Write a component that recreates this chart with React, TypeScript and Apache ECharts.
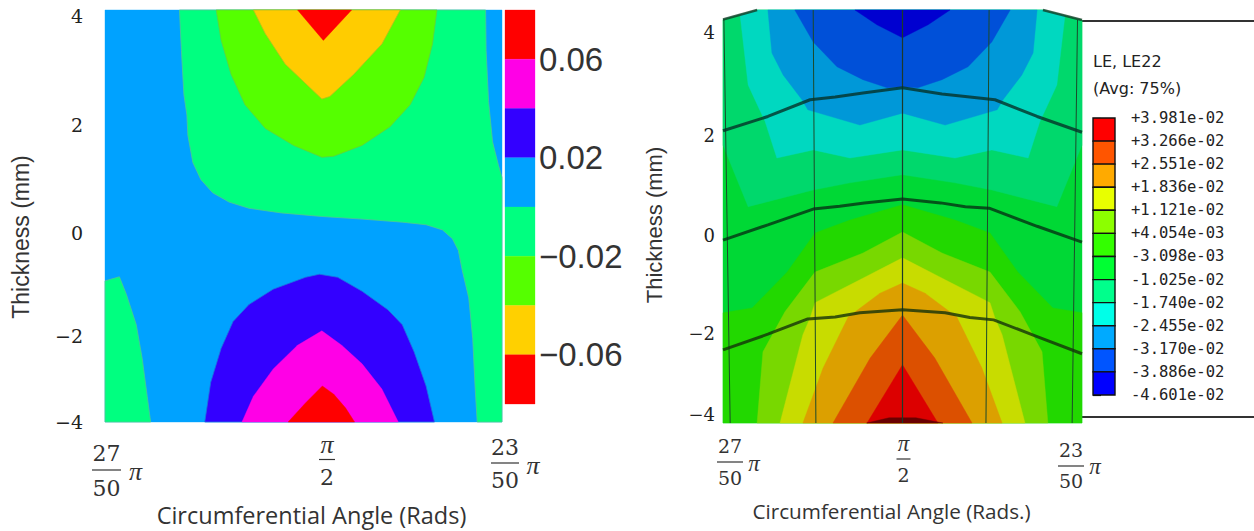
import React, { useEffect, useRef } from "react";
import * as echarts from "echarts";

type P = number[];

// ---------- left panel: contour regions as [angle (hundredths of pi), thickness mm] ----------
const leftMintBand: P[] = [[52.5,4],[52.46,3.21],[52.41,2.36],[52.35,1.96],[52.33,1.57],[52.23,1.04],[52.07,0.71],[51.83,0.45],[51.5,0.27],[51.1,0.15],[50.45,0.06],[49.63,-0.01],[48.82,-0.06],[48.01,-0.12],[47.53,-0.17],[47.2,-0.27],[47,-0.44],[46.88,-0.67],[46.8,-1.06],[46.67,-1.59],[46.59,-2.38],[46.54,-3.36],[46.5,-4],[46,-4],[46,0.75],[46.07,0.98],[46.19,1.44],[46.27,2.22],[46.32,3.21],[46.33,4]];
const leftMintCorner: P[] = [[54,-1.26],[53.71,-1.18],[53.57,-1.52],[53.37,-2.11],[53.25,-2.77],[53.15,-3.5],[53.08,-4],[54,-4]];
const leftLime: P[] = [[51.76,4],[51.66,3.41],[51.46,2.75],[51.18,2.16],[50.77,1.7],[50.2,1.37],[49.63,1.14],[49.39,1.16],[48.82,1.37],[48.26,1.73],[47.85,2.16],[47.57,2.69],[47.4,3.34],[47.31,4]];
const leftGold: P[] = [[51.01,4],[50.77,3.54],[50.37,2.95],[49.63,2.27],[49.47,2.32],[48.99,2.75],[48.42,3.34],[48.05,4]];
const leftRedTop: P[] = [[50.12,4],[49.6,3.41],[49.03,4]];
const leftViolet: P[] = [[51.99,-4],[51.87,-3.23],[51.66,-2.57],[51.42,-2.05],[51.1,-1.72],[50.61,-1.42],[49.96,-1.19],[49.68,-1.13],[49.31,-1.19],[48.82,-1.46],[48.3,-1.82],[48.01,-2.11],[47.77,-2.64],[47.53,-3.3],[47.36,-4]];
const leftMagenta: P[] = [[51.24,-4],[51.01,-3.5],[50.61,-2.97],[50.12,-2.51],[49.63,-2.23],[49.23,-2.51],[48.82,-2.87],[48.42,-3.36],[48.09,-4]];
const leftRedBottom: P[] = [[50.31,-4],[49.96,-3.63],[49.62,-3.3],[49.39,-3.46],[49.15,-3.73],[48.97,-4]];
const leftFull: P[] = [[54,4],[46,4],[46,-4],[54,-4]];

const leftYTickLabels = ["4", "2", "0", "\u22122", "\u22124"];
const leftYTickSpots = [3.88, 1.77, -0.33, -2.33, -4];

// left colour bar
const leftBarEdges = [0.08, 0.06, 0.04, 0.02, 0, -0.02, -0.04, -0.06, -0.08];
const leftBarColors = ["#ff0000", "#ff00e6", "#3300ff", "#00a2ff", "#00ff80", "#55ff00", "#ffd000", "#ff0000"];
const leftBarTicks = [0.06, 0.02, -0.02, -0.06];
const leftBarTickLabels = ["0.06", "0.02", "\u22120.02", "\u22120.06"];

// ---------- right panel ----------
const rightOutline: P[] = [[54,4.28],[53.24,4.48],[46.87,4.48],[46,4.27],[46,-4.17],[54,-4.17]];
const rightMint: P[] = [[54,4.28],[53.24,4.48],[46.87,4.48],[46,4.27],[46,1.65],[46.56,0.36],[48.01,0.71],[48.83,0.86],[50,1.03],[51.17,0.86],[51.99,0.71],[53.44,0.36],[54,1.65]];
const rightTeal: P[] = [[53.62,4.38],[53.24,4.48],[46.87,4.48],[46.38,4.36],[46.56,2.91],[46.94,2.14],[47.2,1.38],[48.01,1.55],[48.83,1.38],[50,1.55],[51.17,1.38],[51.99,1.55],[52.8,1.38],[53.06,2.14],[53.44,2.91]];
const rightSky: P[] = [[53,4.48],[47,4.48],[47.09,3.58],[47.34,3.12],[47.76,2.6],[47.89,2.39],[49.05,2.07],[50,2.32],[50.95,2.07],[52.11,2.39],[52.24,2.6],[52.66,3.12],[52.91,3.58]];
const rightBlue: P[] = [[52.4,4.48],[47.6,4.48],[48.01,3.81],[48.54,3.29],[49.12,3.02],[49.66,2.85],[50,2.87],[50.34,2.85],[50.88,3.02],[51.46,3.29],[51.99,3.81]];
const rightDeep: P[] = [[51.06,4.48],[48.94,4.48],[49.43,4.17],[50,3.9],[50.57,4.17]];
const rightGreen: P[] = [[54,-4.17],[54,-1.86],[53.35,-1.76],[52.57,-1.01],[51.95,-0.19],[51.17,0.08],[50,0.4],[48.83,0.08],[48.05,-0.19],[47.43,-1.01],[46.65,-1.76],[46,-1.86],[46,-4.17]];
const rightLime: P[] = [[53.24,-4.17],[53.11,-2.68],[52.62,-1.84],[51.95,-1.01],[50.88,-0.61],[50,-0.17],[49.12,-0.61],[48.05,-1.01],[47.38,-1.84],[46.89,-2.68],[46.76,-4.17]];
const rightYellow: P[] = [[52.73,-4.17],[52.22,-2.32],[52.06,-1.97],[51.95,-1.65],[50.95,-1.17],[50,-0.71],[49.05,-1.17],[48.05,-1.65],[47.94,-1.97],[47.78,-2.32],[47.27,-4.17]];
const rightOrange: P[] = [[52.22,-4.17],[51.77,-3.02],[51.21,-1.95],[50.5,-1.45],[50,-1.24],[49.5,-1.45],[48.79,-1.95],[48.23,-3.02],[47.78,-4.17]];
const rightRedOrange: P[] = [[51.55,-4.17],[50.72,-2.81],[50,-1.91],[49.28,-2.81],[48.45,-4.17]];
const rightRed: P[] = [[50.79,-4.17],[50,-2.95],[49.21,-4.17]];
const rightDark: P[] = [[50.8,-4.17],[50.3,-4.06],[49.7,-4.06],[49.1,-4.17]];

const meshLine1: P[] = [[54,1.95],[53,2.25],[52.06,2.6],[51.5,2.66],[50.88,2.74],[50,2.85],[49.12,2.72],[48.5,2.66],[47.94,2.6],[47,2.25],[46,1.92]];
const meshLine2: P[] = [[54,-0.34],[53,-0.02],[51.99,0.31],[51.4,0.37],[50.85,0.44],[50,0.52],[49.15,0.44],[48.6,0.36],[48.07,0.33],[47,-0.05],[46,-0.38]];
const meshLine3: P[] = [[54,-2.64],[53,-2.31],[52.11,-1.99],[51.5,-1.95],[50.95,-1.86],[50,-1.8],[49.05,-1.86],[48.5,-1.96],[47.97,-2.01],[47,-2.36],[46,-2.72]];
const meshTopLeft: P[] = [[54,4.28],[53.24,4.48]];
const meshTopRight: P[] = [[46.87,4.48],[46,4.27]];
const meshVert0: P[] = [[53.98,4.28],[53.84,-4.17]];
const meshVert1: P[] = [[51.99,4.48],[51.93,-4.17]];
const meshVert2: P[] = [[50,4.48],[50,-4.17]];
const meshVert3: P[] = [[48.07,4.48],[48.14,-4.17]];
const meshVert4: P[] = [[46.1,4.27],[46.22,-4.17]];

const rightYTickLabels = ["4", "2", "0", "\u22122", "\u22124"];
const rightYTickSpots = [4, 1.86, -0.25, -2.3, -4];

// LE, LE22 legend
const legendValues = [0.03981, 0.03266, 0.02551, 0.01836, 0.01121, 0.004054, -0.003098, -0.01025, -0.0174, -0.02455, -0.0317, -0.03886, -0.04601];
const legendLabels = ["+3.981e-02", "+3.266e-02", "+2.551e-02", "+1.836e-02", "+1.121e-02", "+4.054e-03", "-3.098e-03", "-1.025e-02", "-1.740e-02", "-2.455e-02", "-3.170e-02", "-3.886e-02", "-4.601e-02"];
const legendColors = ["#ff0000", "#ff5500", "#ffaa00", "#e8ff00", "#8cff00", "#33ff00", "#00ff33", "#00ff8c", "#00ffe8", "#00aaff", "#0055ff", "#0000ff"];

// x tick fractions
const xTickValues = [54, 50, 46];
const xTickNumerators = ["27", "\u03c0", "23"];
const xTickDenominators = ["50", "2", "50"];
const xTickHasPi = [true, false, true];

// label placement (offsets from the tick's spot on the plot's lower edge)
const leftFractionLayout = [
  { dx: 1.5, num: 31, rule: 48, den: 66, piDx: 29, piY: 49, half: 14.5 },
  { dx: 23.5, num: 22, rule: 37.5, den: 55, piDx: 0, piY: 0, half: 8 },
  { dx: 3, num: 25, rule: 41, den: 58, piDx: 28, piY: 43, half: 14 },
];
const rightFractionLayout = [
  { dx: 7, num: 23, rule: 39, den: 55, piDx: 24, piY: 40, half: 13 },
  { dx: 1, num: 20, rule: 36, den: 52, piDx: 0, piY: 0, half: 7 },
  { dx: -11, num: 27, rule: 43, den: 58, piDx: 24, piY: 43, half: 13 },
];

const nearestLabel = (v: number, spots: number[], labels: string[]) => {
  let best = 0;
  spots.forEach((s, i) => {
    if (Math.abs(s - v) < Math.abs(spots[best] - v)) best = i;
  });
  return labels[best];
};

const polygonSeries = (pts: P[], color: string, grid: number, edge?: string) => ({
  type: "custom",
  xAxisIndex: grid,
  yAxisIndex: grid,
  silent: true,
  data: [pts[0]],
  encode: { x: 0, y: 1 },
  renderItem: (_p: any, api: any) => ({
    type: "polygon",
    shape: { points: pts.map((q) => api.coord(q)) },
    style: { fill: color, stroke: edge || color, lineWidth: edge ? 0.8 : 0.4 },
  }),
});

const meshSeries = (pts: P[], grid: number, width: number, color: string, z: number) => ({
  type: "line",
  xAxisIndex: grid,
  yAxisIndex: grid,
  silent: true,
  data: pts,
  showSymbol: false,
  symbol: "none",
  z,
  clip: false,
  lineStyle: { color, width },
});

const fractionSeries = (grid: number, bottom: number, layout: any[], font: number) => ({
  type: "custom",
  xAxisIndex: grid,
  yAxisIndex: grid,
  silent: true,
  clip: false,
  data: xTickValues.map((v) => [v, bottom]),
  encode: { x: 0, y: 1 },
  renderItem: (p: any, api: any) => {
    const i = p.dataIndex;
    const at = api.coord([xTickValues[i], bottom]);
    const l = layout[i];
    const cx = at[0] + l.dx;
    const txt = (text: string, x: number, y: number, isPi = false) => ({
      type: "text",
      style: {
        text,
        x,
        y,
        fill: "#333333",
        font: isPi ? `italic ${Math.round(font * 1.2)}px "Liberation Serif"` : `${font}px "DejaVu Serif"`,
        align: "center",
        verticalAlign: "middle",
      },
    });
    const children: any[] = [
      txt(xTickNumerators[i], cx, at[1] + l.num, !xTickHasPi[i]),
      { type: "line", shape: { x1: cx - l.half, y1: at[1] + l.rule, x2: cx + l.half, y2: at[1] + l.rule }, style: { stroke: "#333333", lineWidth: 1.2 } },
      txt(xTickDenominators[i], cx, at[1] + l.den),
    ];
    if (xTickHasPi[i]) children.push(txt("\u03c0", cx + l.piDx, at[1] + l.piY, true));
    return { type: "group", children };
  },
});

const cellSeries = (edges: number[], colors: string[], grid: number, stroke?: string) => ({
  type: "custom",
  xAxisIndex: grid,
  yAxisIndex: grid,
  silent: true,
  z: 2,
  data: colors.map((_c, i) => [0, edges[i], 1, edges[i + 1]]),
  encode: { x: [0, 2], y: [1, 3] },
  renderItem: (p: any, api: any) => {
    const a = api.coord([0, api.value(1)]);
    const b = api.coord([1, api.value(3)]);
    return {
      type: "rect",
      shape: { x: a[0], y: a[1], width: b[0] - a[0], height: b[1] - a[1] },
      style: { fill: colors[p.dataIndex], stroke: stroke || colors[p.dataIndex], lineWidth: stroke ? 1.4 : 0.3 },
    };
  },
});

const hiddenX = { type: "value", min: 0, max: 1, show: false };

export default function App() {
  const ref = useRef<HTMLDivElement>(null);
  useEffect(() => {
    document.body.style.margin = "0";
    document.body.style.background = "#ffffff";
    const chart = echarts.init(ref.current!, undefined, { renderer: "svg" });
    const sans = '"Liberation Sans"';
    const human = '"Open Sans"';
    const serif = '"DejaVu Serif"';
    chart.setOption({
      animation: false,
      backgroundColor: "#ffffff",
      grid: [
        { left: 105, top: 10, width: 397, height: 412, outerBoundsMode: "none" },
        { left: 505, top: 10, width: 30, height: 394, outerBoundsMode: "none" },
        { left: 723, top: 10, width: 359, height: 413, outerBoundsMode: "none" },
        { left: 1093, top: 118, width: 22, height: 277, outerBoundsMode: "none" },
      ],
      xAxis: [
        {
          type: "value", gridIndex: 0, min: 46, max: 54, inverse: true,
          axisLine: { show: false }, axisTick: { show: false }, axisLabel: { show: false }, splitLine: { show: false },
          name: "Circumferential Angle (Rads)", nameLocation: "middle", nameGap: 81,
          nameTextStyle: { fontFamily: human, fontSize: 23.5, lineHeight: 24, color: "#333333", padding: [0, 0, 0, 16] },
        },
        { ...hiddenX, gridIndex: 1 },
        {
          type: "value", gridIndex: 2, min: 46, max: 54, inverse: true,
          axisLine: { show: false }, axisTick: { show: false }, axisLabel: { show: false }, splitLine: { show: false },
          name: "Circumferential Angle (Rads.)", nameLocation: "middle", nameGap: 77,
          nameTextStyle: { fontFamily: human, fontSize: 20.7, color: "#333333", padding: [0, 22, 0, 0] },
        },
        { ...hiddenX, gridIndex: 3 },
      ],
      yAxis: [
        {
          type: "value", gridIndex: 0, min: -4, max: 4, splitLine: { show: false },
          axisLine: { show: false }, axisTick: { show: false },
          axisLabel: {
            customValues: leftYTickSpots, margin: 22, fontFamily: serif, fontSize: 19, color: "#222222",
            formatter: (v: number) => nearestLabel(v, leftYTickSpots, leftYTickLabels),
          },
          name: "Thickness (mm)", nameLocation: "middle", nameRotate: 90, nameGap: 73,
          nameTextStyle: { fontFamily: sans, fontSize: 23, color: "#333333", padding: [0, 42, 0, 0] },
        },
        {
          type: "value", gridIndex: 1, min: -0.08, max: 0.08, position: "right", splitLine: { show: false },
          axisLine: { show: false }, axisTick: { show: false },
          axisLabel: {
            customValues: leftBarTicks, margin: 4, fontFamily: sans, fontSize: 33, color: "#333333",
            formatter: (v: number) => nearestLabel(v, leftBarTicks, leftBarTickLabels),
          },
        },
        {
          type: "value", gridIndex: 2, min: -4.17, max: 4.48, splitLine: { show: false },
          axisLine: { show: false }, axisTick: { show: false },
          axisLabel: {
            customValues: rightYTickSpots, margin: 8, fontFamily: serif, fontSize: 18, color: "#222222",
            formatter: (v: number) => nearestLabel(v, rightYTickSpots, rightYTickLabels),
          },
          name: "Thickness (mm)", nameLocation: "middle", nameRotate: 90, nameGap: 58,
          nameTextStyle: { fontFamily: sans, fontSize: 22, color: "#333333", padding: [0, 17, 0, 0] },
        },
        {
          type: "value", gridIndex: 3, min: -0.04601, max: 0.03981, position: "right", splitLine: { show: false },
          axisLine: { show: false },
          axisTick: { show: true, customValues: legendValues, length: 8, lineStyle: { color: "#111111", width: 1.2 } },
          axisLabel: {
            customValues: legendValues, margin: 16, fontFamily: '"DejaVu Sans Mono"', fontSize: 15.5, color: "#222222",
            formatter: (v: number) => nearestLabel(v, legendValues, legendLabels),
          },
        },
      ],
      series: [
        polygonSeries(leftFull, "#00a2ff", 0),
        polygonSeries(leftMintBand, "#00ff80", 0, "#4fc98f"),
        polygonSeries(leftMintCorner, "#00ff80", 0, "#4fc98f"),
        polygonSeries(leftLime, "#55ff00", 0, "#5fd040"),
        polygonSeries(leftGold, "#ffcc00", 0, "#b0c020"),
        polygonSeries(leftRedTop, "#ff0000", 0),
        polygonSeries(leftViolet, "#3300ff", 0, "#2070e0"),
        polygonSeries(leftMagenta, "#ff00e6", 0),
        polygonSeries(leftRedBottom, "#ff0000", 0),
        cellSeries(leftBarEdges, leftBarColors, 1),
        polygonSeries(rightOutline, "#00d835", 2),
        polygonSeries(rightMint, "#00d86c", 2),
        polygonSeries(rightTeal, "#00d8c0", 2),
        polygonSeries(rightSky, "#0098d8", 2),
        polygonSeries(rightBlue, "#0050d8", 2),
        polygonSeries(rightDeep, "#0000d0", 2),
        polygonSeries(rightGreen, "#22d800", 2),
        polygonSeries(rightLime, "#78d800", 2),
        polygonSeries(rightYellow, "#c8dc00", 2),
        polygonSeries(rightOrange, "#dca000", 2),
        polygonSeries(rightRedOrange, "#dc5000", 2),
        polygonSeries(rightRed, "#dc0000", 2),
        polygonSeries(rightDark, "#6a0000", 2),
        meshSeries(meshVert0, 2, 1, "#1c4a2a", 3),
        meshSeries(meshVert1, 2, 1, "#1c4a2a", 3),
        meshSeries(meshVert2, 2, 1.2, "#1c3a2a", 3),
        meshSeries(meshVert3, 2, 1, "#1c4a2a", 3),
        meshSeries(meshVert4, 2, 1, "#1c4a2a", 3),
        meshSeries(meshLine1, 2, 3, "rgba(5,50,40,0.8)", 4),
        meshSeries(meshLine2, 2, 3, "rgba(5,50,20,0.8)", 4),
        meshSeries(meshLine3, 2, 3, "rgba(20,50,10,0.8)", 4),
        meshSeries(meshTopLeft, 2, 2.5, "rgba(20,60,40,0.8)", 4),
        meshSeries(meshTopRight, 2, 2.5, "rgba(20,60,40,0.8)", 4),
        cellSeries([...legendValues], legendColors, 3, "#111111"),
        fractionSeries(0, -4, leftFractionLayout, 22),
        fractionSeries(2, -4.17, rightFractionLayout, 19),
      ],
      graphic: [
        { type: "line", silent: true, shape: { x1: 1082, y1: 21, x2: 1254, y2: 21 }, style: { stroke: "#333333", lineWidth: 2 } },
        { type: "line", silent: true, shape: { x1: 1082, y1: 417, x2: 1254, y2: 417 }, style: { stroke: "#333333", lineWidth: 2 } },
        { type: "text", silent: true, x: 1093, y: 53, style: { text: "LE, LE22", font: '16px "DejaVu Sans"', fill: "#222222" } },
        { type: "text", silent: true, x: 1093, y: 80, style: { text: "(Avg: 75%)", font: '16px "DejaVu Sans"', fill: "#222222" } },
      ],
    });
    return () => chart.dispose();
  }, []);
  return <div ref={ref} style={{ position: "fixed", left: 0, top: 0, width: 1254, height: 531 }} />;
}
